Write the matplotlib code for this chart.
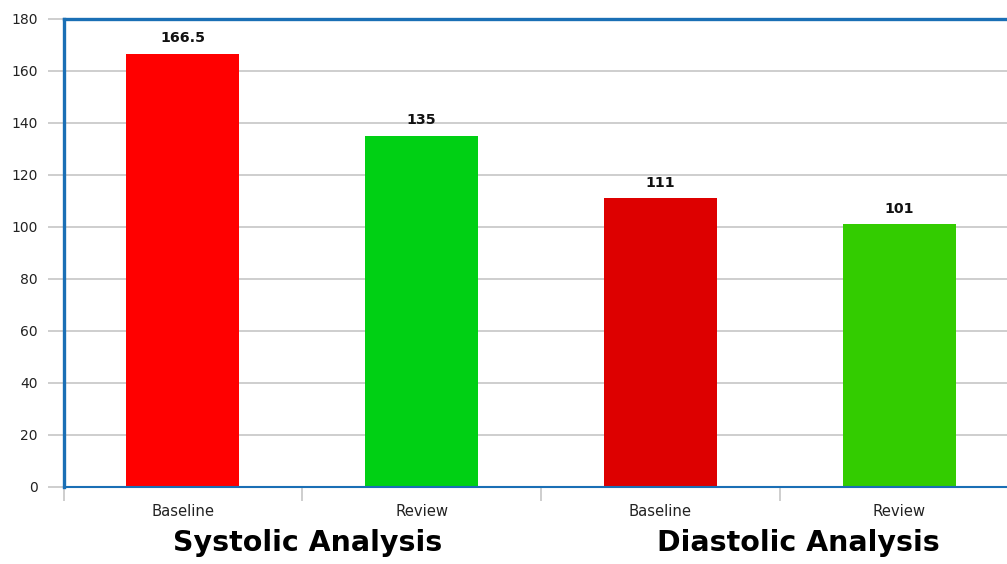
import matplotlib
matplotlib.use("Agg")
import matplotlib.pyplot as plt

categories = ["Baseline", "Review", "Baseline", "Review"]
values = [166.5, 135, 111, 101]
value_labels = ["166.5", "135", "111", "101"]
group_titles = ["Systolic Analysis", "Diastolic Analysis"]
bar_colors = ["#ff0000", "#00d014", "#dd0000", "#33cc00"]
yticks = [0, 20, 40, 60, 80, 100, 120, 140, 160, 180]

plt.rcParams['font.family'] = ['DejaVu Sans']

W, H = 1007, 564
fig = plt.figure(figsize=(W / 100, H / 100), dpi=100)
left_px, right_px, top_px, bottom_px = 63.5, 1018.7, 18.5, 487
ax = fig.add_axes([left_px / W, 1 - bottom_px / H,
                   (right_px - left_px) / W, (bottom_px - top_px) / H])

x = list(range(len(categories)))
ax.bar(x, values, width=0.473, color=bar_colors, zorder=2)
ax.set_xlim(-0.5, len(categories) - 0.5)
ax.set_ylim(0, 180)

ax.set_yticks(yticks)
ax.set_yticklabels([str(v) for v in yticks], fontsize=10, color="#222222")
ax.yaxis.grid(True, color="#c6c6c6", linewidth=1.2, zorder=0)
ax.tick_params(axis="y", length=11.5, width=1.2, color="#c6c6c6", pad=7)

ax.set_xticks(x)
ax.set_xticklabels(categories, fontsize=10.7, color="#222222")
ax.tick_params(axis="x", which="major", length=0, pad=12.5)
ax.set_xticks([i - 0.5 for i in range(len(categories) + 1)], minor=True)
ax.tick_params(axis="x", which="minor", length=10, width=1.2, color="#c6c6c6")

spine_color = "#1a6fb5"
ax.spines["left"].set_color(spine_color)
ax.spines["left"].set_linewidth(2.4)
ax.spines["top"].set_color(spine_color)
ax.spines["top"].set_linewidth(2.4)
ax.spines["bottom"].set_color(spine_color)
ax.spines["bottom"].set_linewidth(1.5)
ax.spines["right"].set_visible(False)
for s in ax.spines.values():
    s.set_zorder(3)

for xi, v, lab in zip(x, values, value_labels):
    ax.annotate(lab, (xi, v), xytext=(0, 6), textcoords="offset points",
                ha="center", va="bottom", fontsize=10.3, fontweight="bold",
                color="#111111")

title_x_px = [308, 798]
for tx, t in zip(title_x_px, group_titles):
    fig.text(tx / W, 1 - 543 / H, t, ha="center", va="center",
             fontsize=20.5, fontweight="bold", color="#000000")

fig.savefig("out.png", dpi=100)
